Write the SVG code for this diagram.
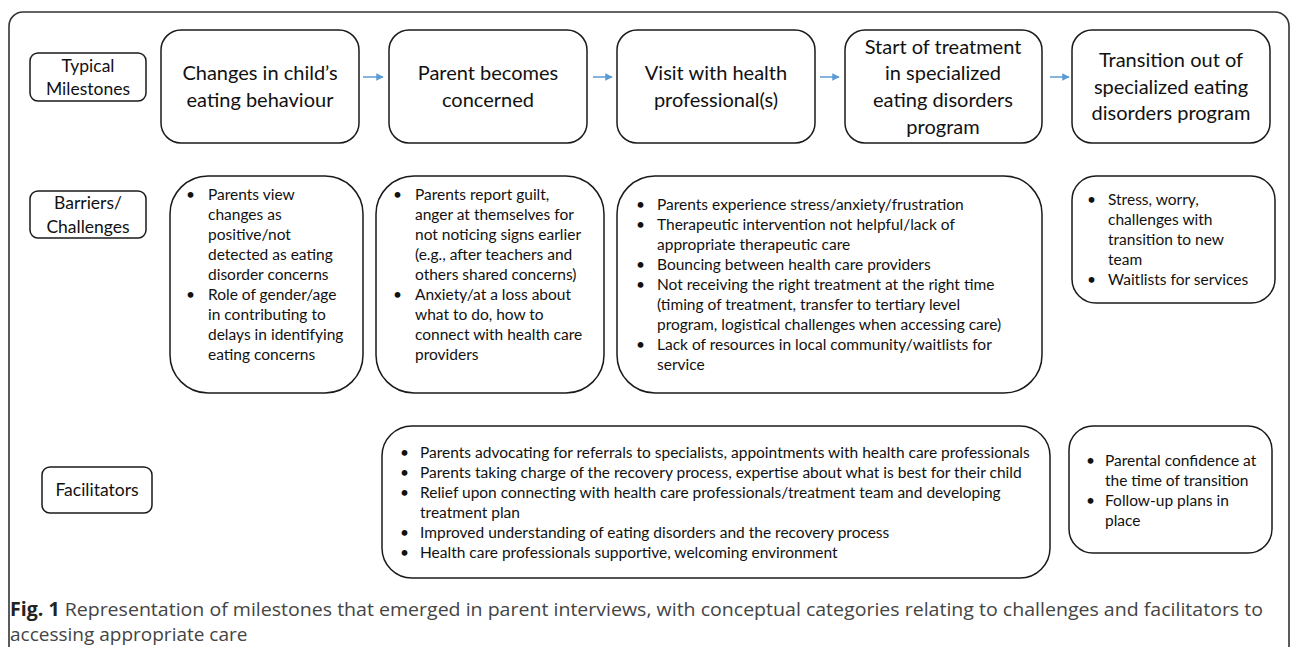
<svg xmlns="http://www.w3.org/2000/svg" width="1292" height="647" viewBox="0 0 1292 647">
<defs>
<style>
.frame{fill:none;stroke:#333;stroke-width:1.6}
.box{fill:#fff;stroke:#1a1a1a;stroke-width:1.5}
.lab{font-family:Lato,"Liberation Sans",sans-serif;font-size:17.5px;fill:#111;text-anchor:middle}
.ms{font-family:Lato,"Liberation Sans",sans-serif;font-size:20px;fill:#111;text-anchor:middle}
.bt{font-family:Lato,"Liberation Sans",sans-serif;font-size:15.5px;fill:#111}
.cap{font-family:"Open Sans","Liberation Sans",sans-serif;font-size:19px;fill:#444}
.arr{stroke:#5b9bd5;stroke-width:1.5;fill:none;marker-end:url(#ah)}
</style>
<marker id="ah" viewBox="0 0 10 10" refX="9" refY="5" markerWidth="5" markerHeight="5" orient="auto" markerUnits="strokeWidth">
<path d="M0,0 L10,5 L0,10 z" fill="#5b9bd5"/>
</marker>
</defs>
<rect class="frame" x="9" y="12" width="1280" height="660" rx="14"/>

<g id="label-milestones">
<rect class="box" x="30" y="53" width="116" height="48" rx="8"/>
<text class="lab" x="88" y="72">Typical</text>
<text class="lab" x="88" y="95">Milestones</text>
</g>
<g id="m1">
<rect class="box" x="161" y="30" width="198" height="113" rx="20"/>
<text class="ms" x="260" y="80">Changes in child’s</text>
<text class="ms" x="260" y="107">eating behaviour</text>
</g>
<g id="m2">
<rect class="box" x="389" y="30" width="198" height="113" rx="20"/>
<text class="ms" x="488" y="80">Parent becomes</text>
<text class="ms" x="488" y="107">concerned</text>
</g>
<g id="m3">
<rect class="box" x="617" y="30" width="198" height="113" rx="20"/>
<text class="ms" x="716" y="80">Visit with health</text>
<text class="ms" x="716" y="107">professional(s)</text>
</g>
<g id="m4">
<rect class="box" x="845" y="30" width="197" height="113" rx="20"/>
<text class="ms" x="943" y="54">Start of treatment</text>
<text class="ms" x="943" y="80">in specialized</text>
<text class="ms" x="943" y="107">eating disorders</text>
<text class="ms" x="943" y="134">program</text>
</g>
<g id="m5">
<rect class="box" x="1072" y="30" width="198" height="113" rx="20"/>
<text class="ms" x="1171" y="67">Transition out of</text>
<text class="ms" x="1171" y="94">specialized eating</text>
<text class="ms" x="1171" y="120">disorders program</text>
</g>
<g id="connectors">
<line class="arr" x1="363" y1="77" x2="383" y2="77"/>
<line class="arr" x1="593" y1="77" x2="612" y2="77"/>
<line class="arr" x1="820" y1="77" x2="839" y2="77"/>
<line class="arr" x1="1050" y1="77" x2="1069" y2="77"/>
</g>

<g id="label-barriers">
<rect class="box" x="30" y="191" width="116" height="47" rx="8"/>
<text class="lab" x="88" y="209">Barriers/</text>
<text class="lab" x="88" y="233">Challenges</text>
</g>
<g id="b1">
<rect class="box" x="170" y="176" width="193" height="217" rx="38"/>
<g class="bt">
<text x="186" y="200">•</text><text x="208" y="200">Parents view</text>
<text x="208" y="220">changes as</text>
<text x="208" y="240">positive/not</text>
<text x="208" y="260">detected as eating</text>
<text x="208" y="280">disorder concerns</text>
<text x="186" y="300">•</text><text x="208" y="300">Role of gender/age</text>
<text x="208" y="320">in contributing to</text>
<text x="208" y="340">delays in identifying</text>
<text x="208" y="360">eating concerns</text>
</g>
</g>
<g id="b2">
<rect class="box" x="376" y="176" width="228" height="217" rx="38"/>
<g class="bt">
<text x="393" y="200">•</text><text x="415" y="200">Parents report guilt,</text>
<text x="415" y="220">anger at themselves for</text>
<text x="415" y="240">not noticing signs earlier</text>
<text x="415" y="260">(e.g., after teachers and</text>
<text x="415" y="280">others shared concerns)</text>
<text x="393" y="300">•</text><text x="415" y="300">Anxiety/at a loss about</text>
<text x="415" y="320">what to do, how to</text>
<text x="415" y="340">connect with health care</text>
<text x="415" y="360">providers</text>
</g>
</g>
<g id="b3">
<rect class="box" x="617" y="176" width="425" height="217" rx="38"/>
<g class="bt">
<text x="636" y="210">•</text><text x="657" y="210">Parents experience stress/anxiety/frustration</text>
<text x="636" y="230">•</text><text x="657" y="230">Therapeutic intervention not helpful/lack of</text>
<text x="657" y="250">appropriate therapeutic care</text>
<text x="636" y="270">•</text><text x="657" y="270">Bouncing between health care providers</text>
<text x="636" y="290">•</text><text x="657" y="290">Not receiving the right treatment at the right time</text>
<text x="657" y="310">(timing of treatment, transfer to tertiary level</text>
<text x="657" y="330">program, logistical challenges when accessing care)</text>
<text x="636" y="350">•</text><text x="657" y="350">Lack of resources in local community/waitlists for</text>
<text x="657" y="370">service</text>
</g>
</g>
<g id="b4">
<rect class="box" x="1072" y="176" width="203" height="127" rx="24"/>
<g class="bt">
<text x="1087" y="205">•</text><text x="1108" y="205">Stress, worry,</text>
<text x="1108" y="225">challenges with</text>
<text x="1108" y="245">transition to new</text>
<text x="1108" y="265">team</text>
<text x="1087" y="285">•</text><text x="1108" y="285">Waitlists for services</text>
</g>
</g>

<g id="label-facilitators">
<rect class="box" x="42" y="467" width="110" height="46" rx="8"/>
<text class="lab" x="97" y="496">Facilitators</text>
</g>
<g id="f1">
<rect class="box" x="382" y="426" width="668" height="152" rx="30"/>
<g class="bt">
<text x="400" y="458">•</text><text x="420" y="458">Parents advocating for referrals to specialists, appointments with health care professionals</text>
<text x="400" y="478">•</text><text x="420" y="478">Parents taking charge of the recovery process, expertise about what is best for their child</text>
<text x="400" y="498">•</text><text x="420" y="498">Relief upon connecting with health care professionals/treatment team and developing</text>
<text x="420" y="518">treatment plan</text>
<text x="400" y="538">•</text><text x="420" y="538">Improved understanding of eating disorders and the recovery process</text>
<text x="400" y="558">•</text><text x="420" y="558">Health care professionals supportive, welcoming environment</text>
</g>
</g>
<g id="f2">
<rect class="box" x="1069" y="426" width="203" height="127" rx="24"/>
<g class="bt">
<text x="1086" y="466">•</text><text x="1105" y="466">Parental confidence at</text>
<text x="1105" y="486">the time of transition</text>
<text x="1086" y="506">•</text><text x="1105" y="506">Follow-up plans in</text>
<text x="1105" y="526">place</text>
</g>
</g>

<g id="caption">
<text class="cap" x="10" y="616" textLength="1253" lengthAdjust="spacingAndGlyphs"><tspan font-weight="bold" fill="#222">Fig. 1</tspan> Representation of milestones that emerged in parent interviews, with conceptual categories relating to challenges and facilitators to</text>
<text class="cap" x="10" y="641">accessing appropriate care</text>
</g>
</svg>
